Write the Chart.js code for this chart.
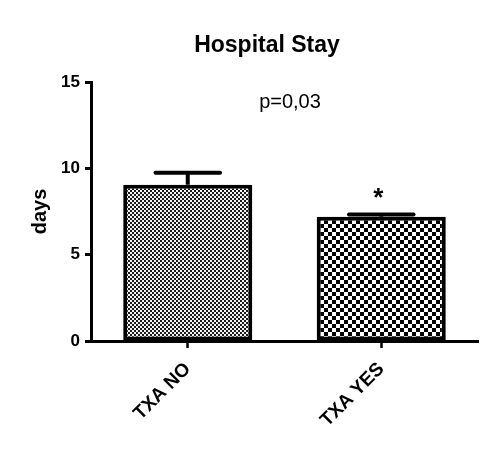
<!DOCTYPE html>
<html>
<head>
<meta charset="utf-8">
<script src="https://cdn.jsdelivr.net/npm/chart.js@4.4.0/dist/chart.umd.min.js"></script>
<style>
    body { margin:0; background:#fff; }
    #wrap { width:500px; height:451px; }
</style>
</head>
<body>
<div id="wrap"><canvas id="stay" width="500" height="451"></canvas></div>
<script>
// data
const groups = ['TXA NO', 'TXA YES'];
const meanDays = [9.05, 7.2];
const semDays = [0.7, 0.12];
const yTicks = [0, 5, 10, 15];
const chartTitle = 'Hospital Stay';
const pText = 'p=0,03';
const sigMarks = ['', '*'];

const FONT = '"Liberation Sans", Arial, Helvetica, sans-serif';

function checker(cell, dark, light) {
    const c = document.createElement('canvas');
    c.width = cell * 2; c.height = cell * 2;
    const g = c.getContext('2d');
    g.fillStyle = light; g.fillRect(0, 0, cell * 2, cell * 2);
    g.fillStyle = dark;
    g.fillRect(0, 0, cell, cell);
    g.fillRect(cell, cell, cell, cell);
    return g.createPattern(c, 'repeat');
}

const errorBars = {
    id: 'errorBars',
    afterDatasetsDraw(chart) {
        const ctx = chart.ctx;
        const y = chart.scales.y;
        const meta = chart.getDatasetMeta(0);
        ctx.save();
        ctx.strokeStyle = '#000';
        ctx.lineWidth = 4;
        meta.data.forEach(function(bar, i) {
            const top = y.getPixelForValue(meanDays[i] + semDays[i]);
            const half = bar.width * 0.25;
            ctx.lineCap = 'butt';
            ctx.beginPath();
            ctx.moveTo(bar.x, bar.y);
            ctx.lineTo(bar.x, top);
            ctx.stroke();
            ctx.lineCap = 'round';
            ctx.beginPath();
            ctx.moveTo(bar.x - half, top);
            ctx.lineTo(bar.x + half, top);
            ctx.stroke();
            if (sigMarks[i]) {
                ctx.fillStyle = '#000';
                ctx.font = 'bold 26px ' + FONT;
                ctx.textAlign = 'center';
                ctx.textBaseline = 'alphabetic';
                ctx.fillText(sigMarks[i], bar.x - 3, top - 9);
            }
        });
        ctx.restore();
    },
    afterDraw(chart) {
        const ctx = chart.ctx;
        ctx.save();
        ctx.fillStyle = '#000';
        ctx.textAlign = 'center';
        ctx.textBaseline = 'middle';
        ctx.font = 'bold 23px ' + FONT;
        ctx.fillText(chartTitle, 267, 46);
        ctx.font = '20px ' + FONT;
        ctx.fillText(pText, 290, 102);
        ctx.restore();
    }
};

new Chart(document.getElementById('stay'), {
    type: 'bar',
    data: {
        labels: groups,
        datasets: [{
            data: meanDays,
            backgroundColor: [checker(2, '#1a1a1a', '#f4f4f4'), checker(4, '#000', '#fff')],
            borderColor: '#000',
            borderWidth: 4,
            borderSkipped: false,
            categoryPercentage: 1,
            barPercentage: 0.667
        }]
    },
    options: {
        responsive: false,
        animation: false,
        layout: { padding: { top: 82, right: 22, left: 0, bottom: 0 } },
        plugins: { legend: { display: false }, tooltip: { enabled: false } },
        scales: {
            x: {
                afterFit: function(s) { s.height = 110; },
                grid: { offset: false, drawOnChartArea: false, drawTicks: true, tickLength: 7, tickWidth: 2.5, tickColor: '#000' },
                border: { display: true, color: '#000', width: 3 },
                ticks: { color: '#000', font: { family: FONT, size: 19, weight: 'bold' }, minRotation: 45, maxRotation: 45, padding: 10 }
            },
            y: {
                min: 0, max: 15,
                afterFit: function(s) { s.width = 91; },
                afterBuildTicks: function(s) { s.ticks = yTicks.map(function(v) { return { value: v }; }); },
                grid: { drawOnChartArea: false, drawTicks: true, tickLength: 6, tickWidth: 3, tickColor: '#000' },
                border: { display: true, color: '#000', width: 3 },
                ticks: { color: '#000', font: { family: FONT, size: 17, weight: 'bold' }, padding: 5 },
                title: { display: true, text: 'days', color: '#000', font: { family: FONT, size: 20, weight: 'bold' }, padding: { top: 28, bottom: 0 } }
            }
        }
    },
    plugins: [errorBars]
});
</script>
</body>
</html>
